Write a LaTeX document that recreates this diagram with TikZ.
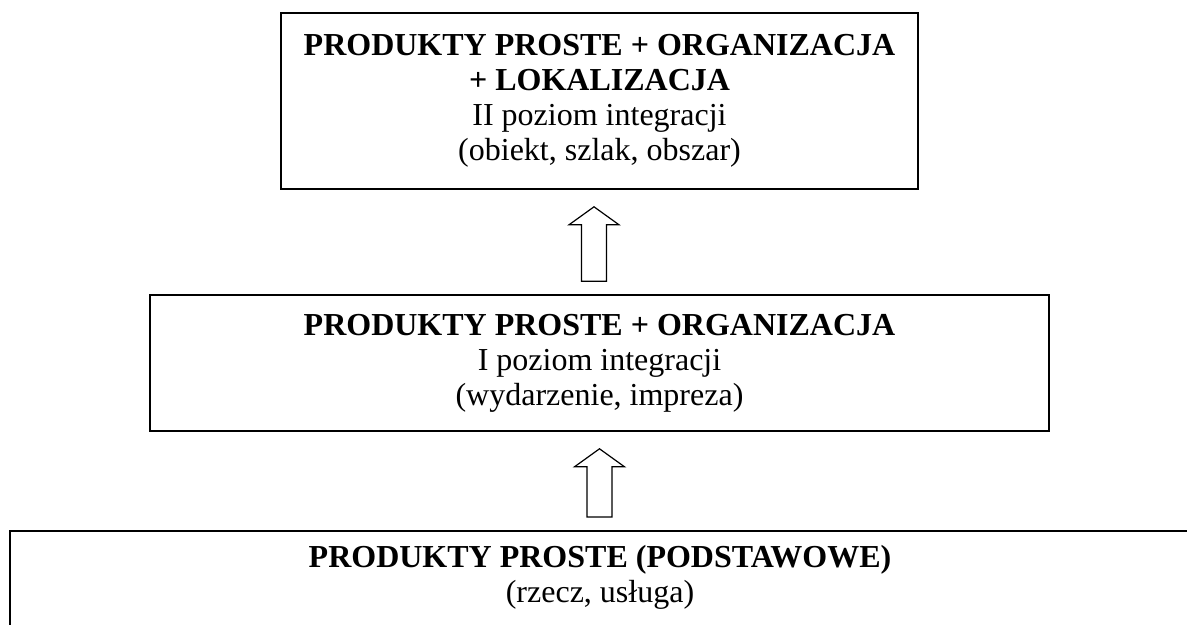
\documentclass[tikz,border=0pt]{standalone}
\usepackage{fontspec}
\setmainfont{Liberation Serif}
\usetikzlibrary{calc}

\tikzset{
  poziom/.style={draw, line width=0.8pt, align=center, inner sep=0pt,
    font=\fontsize{16}{17.5}\selectfont},
  napis/.style={align=center, font=\fontsize{16}{17.5}\selectfont},
  strzalka/.style={draw, line width=0.6pt, fill=white},
}

\begin{document}
\begin{tikzpicture}[x=0.5pt, y=-0.5pt]
  \useasboundingbox (0,0) rectangle (1187,625);
  \clip (0,0) rectangle (1187,625);

  % II poziom integracji
  \node[poziom, minimum width=318.5pt, minimum height=88pt] (top) at (599.5,101)
    {\textbf{PRODUKTY PROSTE + ORGANIZACJA}\\ \textbf{+ LOKALIZACJA}\\
     II poziom integracji\\ (obiekt, szlak, obszar)};

  % I poziom integracji
  \node[poziom, minimum width=449.5pt, minimum height=68pt] (mid) at (599.5,363)
    {\textbf{PRODUKTY PROSTE + ORGANIZACJA}\\ I poziom integracji\\
     (wydarzenie, impreza)};

  % Produkty proste (ucięte u dołu)
  \node[poziom, anchor=north west, minimum width=600pt, minimum height=80pt] (base) at (9,530) {};
  \node[napis] (basetext) at (600,577)
    {\textbf{PRODUKTY PROSTE (PODSTAWOWE)}\\ (rzecz, usługa)};

  % Strzałki
  \foreach \from/\to/\dx in {mid/top/-5.5, base/mid/0}
    \draw[strzalka] let \p1=($(\to.south)+(\dx,17)$), \p2=($(\from.north)+(0,-13)$) in
      (\x1-6.25pt,\y2) -- (\x1-6.25pt,\y1-9pt) -- (\x1-12.5pt,\y1-9pt) -- (\x1,\y1)
      -- (\x1+12.5pt,\y1-9pt) -- (\x1+6.25pt,\y1-9pt) -- (\x1+6.25pt,\y2) -- cycle;
\end{tikzpicture}
\end{document}
